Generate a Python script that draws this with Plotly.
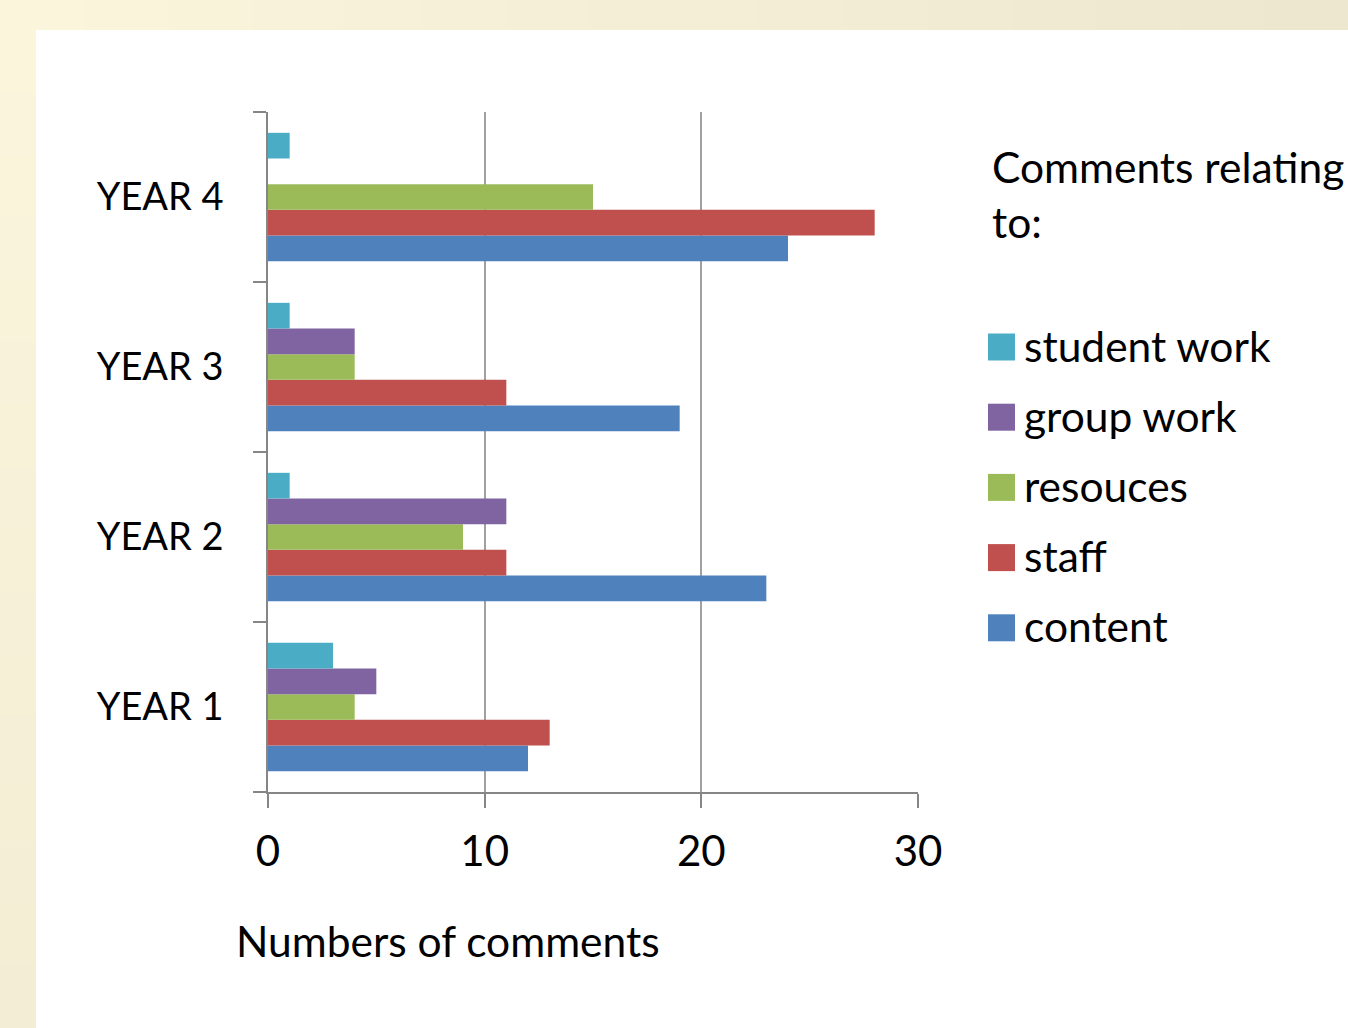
import plotly.graph_objects as go

categories = ["YEAR 1", "YEAR 2", "YEAR 3", "YEAR 4"]
series_names = ["content", "staff", "resouces", "group work", "student work"]
content = [12, 23, 19, 24]
staff = [13, 11, 11, 28]
resouces = [4, 9, 4, 15]
group_work = [5, 11, 4, 0]
student_work = [3, 1, 1, 1]
series_values = [content, staff, resouces, group_work, student_work]
colors = ["#4F81BD", "#C0504D", "#9BBB59", "#8064A2", "#4BACC6"]
x_ticks = [0, 10, 20, 30]
legend_title = "Comments relating<br>to:"
x_title = "Numbers of comments"

FONT = "Lato, Calibri, sans-serif"
FS = 42.5
W, H = 1348, 1028
L, R, T, B = 268, 918, 112, 792


def fx(px):
    return (px - L) / (R - L)


def fy(py):
    return (B - py) / (B - T)


def mix(c1, c2, t):
    a = [int(c1[i:i + 2], 16) for i in (1, 3, 5)]
    b = [int(c2[i:i + 2], 16) for i in (1, 3, 5)]
    return "#" + "".join(f"{round(a[k] + (b[k] - a[k]) * t):02X}" for k in range(3))


fig = go.Figure()
for name, vals, col in zip(series_names, series_values, colors):
    fig.add_trace(go.Bar(y=categories, x=vals, name=name, orientation="h",
                         marker=dict(color=col, line=dict(width=0)),
                         showlegend=False))

shapes = []
# decorative slide background: subtle gradient on cream frame
n = 16
for i in range(n):
    x0 = i * W / n
    x1 = (i + 1) * W / n + 1
    shapes.append(dict(type="rect", xref="paper", yref="paper",
                       x0=fx(x0), x1=fx(x1), y0=fy(31), y1=fy(-2),
                       fillcolor=mix("#FBF5DC", "#EDE7D0", i / (n - 1)),
                       line=dict(width=0), layer="below"))
for i in range(n):
    y0 = 30 + i * (H - 30) / n
    y1 = 30 + (i + 1) * (H - 30) / n + 1
    shapes.append(dict(type="rect", xref="paper", yref="paper",
                       x0=fx(-2), x1=fx(37), y0=fy(y1), y1=fy(y0),
                       fillcolor=mix("#FBF5DC", "#F4EDD5", i / (n - 1)),
                       line=dict(width=0), layer="below"))
shapes.append(dict(type="rect", xref="paper", yref="paper", x0=fx(36), x1=fx(W + 5),
                   y0=fy(H + 5), y1=fy(30), fillcolor="white", line=dict(width=0),
                   layer="below"))

annotations = [
    dict(text=x_title, xref="paper", yref="paper", x=fx(234), y=fy(940),
         xanchor="left", yanchor="middle", showarrow=False,
         font=dict(family=FONT, size=FS, color="black")),
    dict(text=legend_title, xref="paper", yref="paper", x=fx(990), y=fy(194),
         xanchor="left", yanchor="middle", showarrow=False, align="left",
         font=dict(family=FONT, size=FS, color="black")),
]
legend_order = list(range(len(series_names)))[::-1]
for i, idx in enumerate(legend_order):
    cy = 347 + i * 70.2
    shapes.append(dict(type="rect", xref="paper", yref="paper",
                       x0=fx(988), x1=fx(1015), y0=fy(cy + 13.5), y1=fy(cy - 13.5),
                       fillcolor=colors[idx], line=dict(width=0)))
    annotations.append(dict(text=series_names[idx], xref="paper", yref="paper",
                            x=fx(1022), y=fy(cy - 2), xanchor="left", yanchor="middle",
                            showarrow=False,
                            font=dict(family=FONT, size=FS, color="black")))

fig.update_layout(
    width=W, height=H,
    margin=dict(l=L, r=W - R, t=T, b=H - B, pad=0),
    paper_bgcolor="#FBF5DC",
    plot_bgcolor="white",
    barmode="group",
    bargap=0.245,
    bargroupgap=0,
    showlegend=False,
    shapes=shapes,
    annotations=annotations,
    font=dict(family=FONT, size=FS, color="black"),
    xaxis=dict(range=[0, 30], tickvals=x_ticks, ticks="outside", ticklen=14,
               tickwidth=1.5, tickcolor="#868686", showgrid=True,
               gridcolor="#A0A0A0", gridwidth=1.5, zeroline=False,
               showline=True, linecolor="#868686", linewidth=1.5,
               tickfont=dict(family=FONT, size=42, color="black"),
               ticklabelstandoff=8, fixedrange=True),
    yaxis=dict(type="category", categoryorder="array", categoryarray=categories,
               ticks="outside", tickson="boundaries", ticklen=13, tickwidth=1.5,
               tickcolor="#868686", showline=True, linecolor="#868686",
               linewidth=1.5, showgrid=False, zeroline=False,
               tickfont=dict(family=FONT, size=38, color="black"),
               ticklabelstandoff=35, fixedrange=True),
)

fig.write_html("out.html", config={"displayModeBar": False},
               post_script="document.body.style.margin='0';document.body.style.padding='0';document.body.style.overflow='hidden';")
